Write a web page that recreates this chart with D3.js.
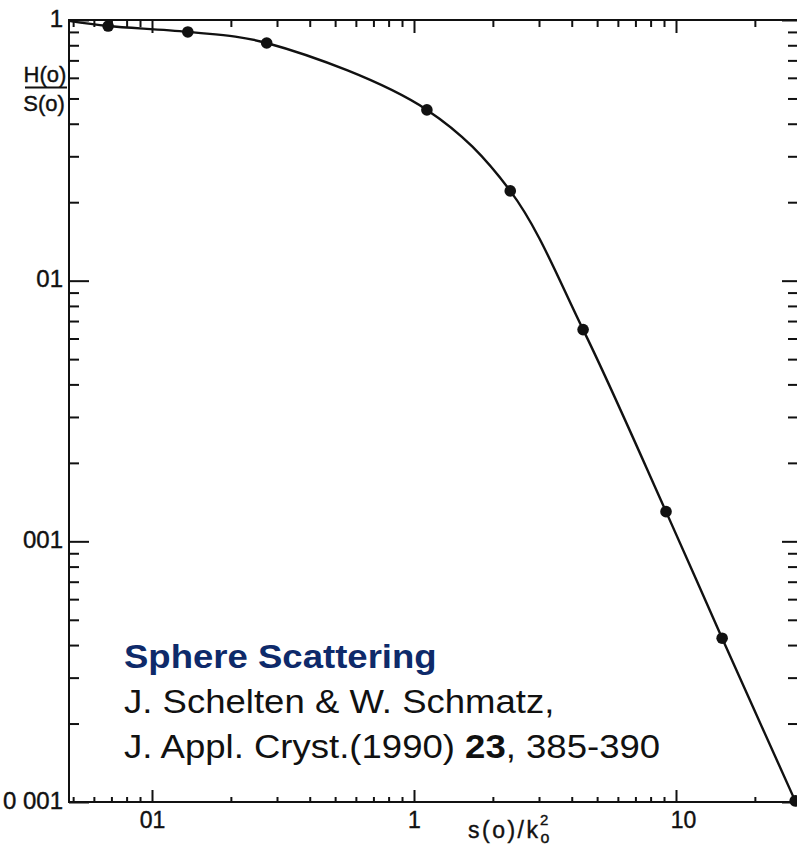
<!DOCTYPE html>
<html>
<head>
<meta charset="utf-8">
<script src="https://cdn.jsdelivr.net/npm/d3@7"></script>
<style>
  html, body { margin: 0; padding: 0; background: #fff; }
  svg { display: block; }
</style>
</head>
<body>
<svg id="chart" width="797" height="848"></svg>
<script>
// ---- data ----
const pointX = [0.068, 0.137, 0.274, 1.12, 2.33, 4.42, 9.16, 15.0, 28.5];
const pointY = [0.948, 0.900, 0.816, 0.452, 0.221, 0.0649, 0.0130, 0.00425, 0.00101];
// curve: starts at the left frame, then runs through the points
const curveX = [0.0482].concat(pointX);
const curveY = [0.992].concat(pointY);

const yMajor = [1, 0.1, 0.01, 0.001];
const yMajorLabels = ["1", "01", "001", "0 001"];
const yMinor = [];
[0.001, 0.01, 0.1].forEach(d => { for (let k = 2; k <= 9; k++) yMinor.push(d * k); });

const xMajor = [0.1, 1, 10];
const xMajorLabels = ["01", "1", "10"];
const xMinor = [];
[0.01, 0.1, 1, 10].forEach(d => { for (let k = 2; k <= 9; k++) { const v = d * k; if (v > 0.048 && v < 29) xMinor.push(v); } });

// ---- layout ----
const M = { left: 69, right: 797, top: 20, bottom: 802 };
const svg = d3.select("#chart");

const x = d3.scaleLog().domain([0.1, 10]).range([152, 676]);
const y = d3.scaleLog().domain([0.001, 1]).range([M.bottom, M.top]);

const ink = "#111";
const tickFont = "'Liberation Sans', Arial, sans-serif";

function styleAxis(g) {
  g.select(".domain").remove();
  g.selectAll(".tick line").attr("stroke", ink).attr("stroke-width", 2);
  g.selectAll(".tick text").attr("fill", ink).attr("font-family", tickFont);
}

// frame lines (right edge of the frame is cut off in the picture)
const frame = svg.append("g").attr("stroke", ink).attr("stroke-width", 2).attr("fill", "none");
frame.append("line").attr("x1", M.left).attr("x2", M.left).attr("y1", M.top - 1).attr("y2", M.bottom + 1);
frame.append("line").attr("x1", M.left).attr("x2", M.right).attr("y1", M.bottom).attr("y2", M.bottom);
frame.append("line").attr("x1", M.left).attr("x2", M.right).attr("y1", M.top).attr("y2", M.top);

// left axis
svg.append("g").attr("transform", `translate(${M.left},0)`)
  .call(d3.axisLeft(y).tickValues(yMinor).tickSize(-10).tickFormat(""))
  .call(styleAxis);
svg.append("g").attr("transform", `translate(${M.left},0)`)
  .call(d3.axisLeft(y).tickValues(yMajor).tickSize(-20).tickPadding(6)
        .tickFormat((d, i) => yMajorLabels[i]))
  .call(styleAxis)
  .call(g => g.selectAll(".tick text").attr("font-size", 24).attr("dy", "0.25em")
                .attr("stroke", ink).attr("stroke-width", 0.4));

// right axis (ticks pointing inward)
svg.append("g").attr("transform", `translate(${M.right},0)`)
  .call(d3.axisRight(y).tickValues(yMinor).tickSize(-9).tickFormat(""))
  .call(styleAxis);
svg.append("g").attr("transform", `translate(${M.right},0)`)
  .call(d3.axisRight(y).tickValues(yMajor).tickSize(-15).tickFormat(""))
  .call(styleAxis);

// bottom axis
svg.append("g").attr("transform", `translate(0,${M.bottom})`)
  .call(d3.axisBottom(x).tickValues(xMinor).tickSize(-5).tickFormat(""))
  .call(styleAxis);
svg.append("g").attr("transform", `translate(0,${M.bottom})`)
  .call(d3.axisBottom(x).tickValues(xMajor).tickSize(-12).tickPadding(6)
        .tickFormat((d, i) => xMajorLabels[i]))
  .call(styleAxis)
  .call(g => g.selectAll(".tick text").attr("font-size", 23).attr("dy", "0.85em")
                .attr("stroke", ink).attr("stroke-width", 0.4)
                .attr("dx", (d, i) => i === 2 ? 7 : 0));

// top axis
svg.append("g").attr("transform", `translate(0,${M.top})`)
  .call(d3.axisTop(x).tickValues(xMinor).tickSize(-7).tickFormat(""))
  .call(styleAxis);
svg.append("g").attr("transform", `translate(0,${M.top})`)
  .call(d3.axisTop(x).tickValues(xMajor).tickSize(-13).tickFormat(""))
  .call(styleAxis);

// curve
const line = d3.line()
  .x((d, i) => x(curveX[i]))
  .y((d, i) => y(curveY[i]))
  .curve(d3.curveCatmullRom.alpha(0.5));
svg.append("path")
  .datum(curveX)
  .attr("d", line)
  .attr("fill", "none")
  .attr("stroke", ink)
  .attr("stroke-width", 2.4);

// points
svg.append("g").selectAll("circle")
  .data(pointX)
  .join("circle")
  .attr("cx", d => x(d))
  .attr("cy", (d, i) => y(pointY[i]))
  .attr("r", 5.8)
  .attr("fill", ink);

// y-axis label H(o)/S(o)
const yl = svg.append("g").attr("font-family", tickFont).attr("font-size", 22).attr("fill", ink)
  .attr("stroke", ink).attr("stroke-width", 0.4);
yl.append("text").attr("x", 45).attr("y", 82).attr("text-anchor", "middle").text("H(o)");
yl.append("line").attr("x1", 25).attr("x2", 67).attr("y1", 87.5).attr("y2", 87.5)
  .attr("stroke", ink).attr("stroke-width", 2);
yl.append("text").attr("x", 44).attr("y", 111).attr("text-anchor", "middle").text("S(o)");

// x-axis label s(o)/k_o^2
const xl = svg.append("text").attr("x", 468).attr("y", 838)
  .attr("font-family", tickFont).attr("font-size", 23).attr("fill", ink)
  .attr("stroke", ink).attr("stroke-width", 0.4).attr("letter-spacing", 2.5);
xl.append("tspan").text("s(o)/k");
xl.append("tspan").attr("font-size", 16).attr("dy", 5).text("o");
xl.append("tspan").attr("font-size", 15).attr("dx", -12).attr("dy", -18).text("2");

// annotation (slightly wide lettering, as in the picture)
const note = svg.append("g")
  .attr("transform", "translate(124,0) scale(1.075,1)")
  .attr("font-family", "'Liberation Sans', Arial, sans-serif").attr("font-size", 34);
note.append("text").attr("x", 0).attr("y", 668).attr("font-weight", "bold").attr("fill", "#0e2a6a")
  .text("Sphere Scattering");
note.append("text").attr("x", 0).attr("y", 713).attr("fill", "#111")
  .text("J. Schelten & W. Schmatz,");
const t3 = note.append("text").attr("x", 0).attr("y", 758).attr("fill", "#111");
t3.append("tspan").text("J. Appl. Cryst.(1990) ");
t3.append("tspan").attr("font-weight", "bold").text("23");
t3.append("tspan").text(", 385-390");
</script>
</body>
</html>
